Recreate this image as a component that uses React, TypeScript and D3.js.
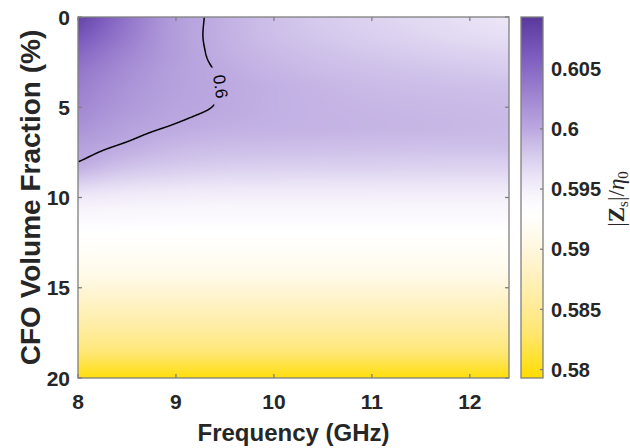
import React, { useMemo } from 'react';
import * as d3 from 'd3';

// Frequency samples (GHz) and CFO volume fractions (%)
const freqs = [8, 8.5, 9, 9.5, 10, 11, 12, 12.4];
const fractions = [0, 1, 2, 3, 4, 5, 6, 7, 8, 10, 12, 14, 16, 18, 20];

// |Zs|/η0, one row per CFO volume fraction, across the frequency samples
const z00 = [0.6085, 0.6042, 0.6009, 0.5995, 0.5985, 0.5972, 0.5962, 0.5958];
const z01 = [0.6068, 0.6036, 0.6008, 0.5995, 0.5986, 0.5975, 0.5966, 0.5963];
const z02 = [0.6052, 0.6028, 0.6008, 0.5996, 0.5989, 0.598, 0.5973, 0.5971];
const z03 = [0.604, 0.6021, 0.6006, 0.59985, 0.5992, 0.5985, 0.598, 0.5978];
const z04 = [0.6032, 0.6016, 0.6005, 0.59996, 0.5995, 0.5989, 0.5986, 0.5985];
const z05 = [0.6026, 0.6012, 0.6003, 0.5999, 0.5995, 0.5991, 0.5989, 0.5988];
const z06 = [0.6018, 0.6006, 0.59995, 0.5996, 0.5994, 0.5992, 0.599, 0.5989];
const z07 = [0.6008, 0.59993, 0.5992, 0.5989, 0.5988, 0.5987, 0.5986, 0.5986];
const z08 = [0.60003, 0.5988, 0.5982, 0.5979, 0.5978, 0.5977, 0.5976, 0.5976];
const z10 = [0.5956, 0.5953, 0.5951, 0.595, 0.595, 0.595, 0.595, 0.595];
const z12 = [0.593, 0.593, 0.593, 0.593, 0.593, 0.593, 0.593, 0.593];
const z14 = [0.5912, 0.5912, 0.5912, 0.5912, 0.5912, 0.5912, 0.5912, 0.5912];
const z16 = [0.588, 0.588, 0.588, 0.588, 0.588, 0.588, 0.588, 0.588];
const z18 = [0.5845, 0.5845, 0.5845, 0.5845, 0.5845, 0.5845, 0.5845, 0.5845];
const z20 = [0.5797, 0.5797, 0.5797, 0.5797, 0.5797, 0.5797, 0.5797, 0.5797];
const rows = [z00, z01, z02, z03, z04, z05, z06, z07, z08, z10, z12, z14, z16, z18, z20];

// Axis ticks
const xTicks = [8, 9, 10, 11, 12];
const yTicks = [0, 5, 10, 15, 20];
const cTicks = [0.58, 0.585, 0.59, 0.595, 0.6, 0.605];
const cTickLabels = ['0.58', '0.585', '0.59', '0.595', '0.6', '0.605'];

// Contour level and where its label sits along the line (volume fraction)
const contourLevel = 0.6;
const contourLabel = '0.6';
const contourLabelAt = 3.85;

// Colour map: yellow → white → purple
const cmapValues = [0.5793, 0.583, 0.586, 0.589, 0.591, 0.593, 0.5945, 0.596, 0.598, 0.6, 0.603, 0.606, 0.6093];
const cmapColors = ['#ffdd00', '#ffe670', '#ffeda4', '#fff4cf', '#fffaea', '#ffffff', '#f8f5fc', '#ebe4f6', '#d4c8ec', '#bba8e0', '#9d82d0', '#7d5dbf', '#593a9c'];
const cRange: [number, number] = [0.5793, 0.6093];

// Monotone cubic (Fritsch–Carlson) interpolant through (xs, ys)
function monotone(xs: number[], ys: number[]) {
  const n = xs.length;
  const h: number[] = [];
  const s: number[] = [];
  for (let i = 0; i < n - 1; i++) {
    h[i] = xs[i + 1] - xs[i];
    s[i] = (ys[i + 1] - ys[i]) / h[i];
  }
  const m: number[] = new Array(n);
  m[0] = s[0];
  m[n - 1] = s[n - 2];
  for (let i = 1; i < n - 1; i++) {
    if (s[i - 1] * s[i] <= 0) m[i] = 0;
    else {
      const w1 = 2 * h[i] + h[i - 1];
      const w2 = h[i] + 2 * h[i - 1];
      m[i] = (w1 + w2) / (w1 / s[i - 1] + w2 / s[i]);
    }
  }
  return (xv: number) => {
    const i = Math.min(n - 2, Math.max(0, d3.bisectRight(xs, xv) - 1));
    const t = (xv - xs[i]) / h[i];
    const t2 = t * t;
    const t3 = t2 * t;
    return (
      (2 * t3 - 3 * t2 + 1) * ys[i] +
      (t3 - 2 * t2 + t) * h[i] * m[i] +
      (-2 * t3 + 3 * t2) * ys[i + 1] +
      (t3 - t2) * h[i] * m[i + 1]
    );
  };
}

const W = 630;
const H = 448;
const plot = { left: 78, top: 17, right: 509, bottom: 378 };
const cbar = { left: 521, right: 543 };
const axisGray = '#7f7f7f';
const textColor = '#262626';
const sans = '"Liberation Sans", Arial, Helvetica, sans-serif';

export default function App() {
  const x = d3.scaleLinear().domain([8, 12.4]).range([plot.left, plot.right]);
  const y = d3.scaleLinear().domain([0, 20]).range([plot.top, plot.bottom]);
  const c = d3.scaleLinear().domain(cRange).range([plot.bottom, plot.top]);
  const color = d3
    .scaleLinear<string>()
    .domain(cmapValues)
    .range(cmapColors)
    .interpolate(d3.interpolateRgb)
    .clamp(true);

  const gw = plot.right - plot.left;
  const gh = plot.bottom - plot.top;

  // Field sampled at every pixel centre of the plot area
  const grid = useMemo(() => {
    const fs = d3.range(gw).map((i) => x.invert(plot.left + i + 0.5));
    const vs = d3.range(gh).map((j) => y.invert(plot.top + j + 0.5));
    const rowFine = rows.map((r) => {
      const sp = monotone(freqs, r);
      return fs.map(sp);
    });
    const g = new Float64Array(gw * gh);
    for (let i = 0; i < gw; i++) {
      const sp = monotone(
        fractions,
        rowFine.map((r) => r[i])
      );
      for (let j = 0; j < gh; j++) g[j * gw + i] = sp(vs[j]);
    }
    return g;
  }, []);

  const heatHref = useMemo(() => {
    const cv = document.createElement('canvas');
    cv.width = gw;
    cv.height = gh;
    const ctx = cv.getContext('2d')!;
    const img = ctx.createImageData(gw, gh);
    const lutN = 2048;
    const lut = d3.range(lutN).map((k) => d3.rgb(color(cRange[0] + ((cRange[1] - cRange[0]) * k) / (lutN - 1))));
    for (let k = 0; k < gw * gh; k++) {
      const t = (grid[k] - cRange[0]) / (cRange[1] - cRange[0]);
      const col = lut[Math.max(0, Math.min(lutN - 1, Math.round(t * (lutN - 1))))];
      img.data[k * 4] = col.r;
      img.data[k * 4 + 1] = col.g;
      img.data[k * 4 + 2] = col.b;
      img.data[k * 4 + 3] = 255;
    }
    ctx.putImageData(img, 0, 0);
    return cv.toDataURL();
  }, [grid]);

  // Contour of the level, split where it runs along the plot border
  const { lines, label } = useMemo(() => {
    const poly = d3.contours().size([gw, gh]).thresholds([contourLevel])(Array.from(grid))[0];
    const onEdge = (p: number[]) => p[0] <= 0 || p[0] >= gw || p[1] <= 0 || p[1] >= gh;
    const out: [number, number][][] = [];
    for (const polygon of poly.coordinates) {
      for (const ring of polygon) {
        let start = ring.findIndex(onEdge);
        if (start < 0) start = 0;
        const n = ring.length;
        let run: [number, number][] = [];
        for (let k = 0; k <= n; k++) {
          const p = ring[(start + k) % n];
          if (onEdge(p)) {
            if (run.length > 1) out.push(run);
            run = [];
          } else run.push([plot.left + p[0], plot.top + p[1]]);
        }
        if (run.length > 1) out.push(run);
      }
    }
    let best = { li: 0, pi: 0, d: Infinity };
    out.forEach((r, li) =>
      r.forEach((p, pi) => {
        const d = Math.abs(y.invert(p[1]) - contourLabelAt);
        if (d < best.d) best = { li, pi, d };
      })
    );
    const line = out[best.li];
    const p = line[best.pi];
    const a = line[Math.max(0, best.pi - 8)];
    const b = line[Math.min(line.length - 1, best.pi + 8)];
    let ang = (Math.atan2(b[1] - a[1], b[0] - a[0]) * 180) / Math.PI;
    if (ang > 90) ang -= 180;
    if (ang <= -90) ang += 180;
    return { lines: out, label: { x: p[0], y: p[1], angle: ang } };
  }, [grid]);

  const lineGen = d3.line();
  const cbarStops = d3.range(0, 1.0001, 1 / 60);

  return (
    <svg width={W} height={H} style={{ position: 'absolute', left: 0, top: 0, background: '#fff' }}>
      <defs>
        <linearGradient id="cbarGrad" x1="0" y1="1" x2="0" y2="0">
          {cbarStops.map((t) => (
            <stop key={t} offset={t} stopColor={color(cRange[0] + t * (cRange[1] - cRange[0]))} />
          ))}
        </linearGradient>
        <clipPath id="plotClip">
          <rect x={plot.left} y={plot.top} width={gw} height={gh} />
        </clipPath>
        <mask id="labelGap" maskUnits="userSpaceOnUse" x={0} y={0} width={W} height={H}>
          <rect x={0} y={0} width={W} height={H} fill="#fff" />
          <rect
            x={-20}
            y={-9}
            width={40}
            height={18}
            fill="#000"
            transform={`translate(${label.x},${label.y}) rotate(${label.angle})`}
          />
        </mask>
      </defs>

      <image href={heatHref} x={plot.left} y={plot.top} width={gw} height={gh} preserveAspectRatio="none" />

      <g clipPath="url(#plotClip)">
        <g mask="url(#labelGap)">
          {lines.map((l, i) => (
            <path key={i} d={lineGen(l) || ''} fill="none" stroke="#000" strokeWidth={1.5} />
          ))}
        </g>
      </g>
      <text
        transform={`translate(${label.x},${label.y}) rotate(${label.angle})`}
        textAnchor="middle"
        dy="0.35em"
        fontFamily={sans}
        fontSize={17}
        fill="#000"
      >
        {contourLabel}
      </text>

      {/* axes box and ticks */}
      <rect x={plot.left} y={plot.top} width={gw} height={gh} fill="none" stroke={axisGray} strokeWidth={1.3} />
      {xTicks.map((t) => (
        <g key={`x${t}`}>
          <line x1={x(t)} x2={x(t)} y1={plot.bottom} y2={plot.bottom - 4} stroke={axisGray} strokeWidth={1.3} />
          <line x1={x(t)} x2={x(t)} y1={plot.top} y2={plot.top + 4} stroke={axisGray} strokeWidth={1.3} />
          <text x={x(t)} y={409} textAnchor="middle" fontFamily={sans} fontWeight="bold" fontSize={21} fill={textColor}>
            {t}
          </text>
        </g>
      ))}
      {yTicks.map((t) => (
        <g key={`y${t}`}>
          <line x1={plot.left} x2={plot.left + 4} y1={y(t)} y2={y(t)} stroke={axisGray} strokeWidth={1.3} />
          <line x1={plot.right} x2={plot.right - 4} y1={y(t)} y2={y(t)} stroke={axisGray} strokeWidth={1.3} />
          <text
            x={70}
            y={y(t)}
            dy="0.36em"
            textAnchor="end"
            fontFamily={sans}
            fontWeight="bold"
            fontSize={21}
            fill={textColor}
          >
            {t}
          </text>
        </g>
      ))}

      <text x={(plot.left + plot.right) / 2} y={441} textAnchor="middle" fontFamily={sans} fontWeight="bold" fontSize={24} fill={textColor}>
        Frequency (GHz)
      </text>
      <text
        transform={`translate(40,${(plot.top + plot.bottom) / 2}) rotate(-90)`}
        textAnchor="middle"
        fontFamily={sans}
        fontWeight="bold"
        fontSize={28}
        fill={textColor}
      >
        CFO Volume Fraction (%)
      </text>

      {/* colour bar */}
      <rect
        x={cbar.left}
        y={plot.top}
        width={cbar.right - cbar.left}
        height={gh}
        fill="url(#cbarGrad)"
        stroke={axisGray}
        strokeWidth={1.3}
      />
      {cTicks.map((t, i) => (
        <g key={`c${t}`}>
          <line x1={cbar.right} x2={cbar.right - 3} y1={c(t)} y2={c(t)} stroke={axisGray} strokeWidth={1.3} />
          <text x={551} y={c(t)} dy="0.36em" fontFamily={sans} fontWeight="bold" fontSize={20} fill={textColor}>
            {cTickLabels[i]}
          </text>
        </g>
      ))}
      <text
        transform={`translate(624,199) rotate(-90)`}
        textAnchor="middle"
        fontFamily='"Liberation Serif", "DejaVu Serif", serif'
        fontSize={23}
        fill={textColor}
      >
        <tspan>|</tspan>
        <tspan fontWeight="bold">Z</tspan>
        <tspan fontSize={15} dy={4}>
          s
        </tspan>
        <tspan dy={-4}>|/</tspan>
        <tspan fontStyle="italic">η</tspan>
        <tspan fontSize={15} dy={4}>
          0
        </tspan>
      </text>
    </svg>
  );
}
